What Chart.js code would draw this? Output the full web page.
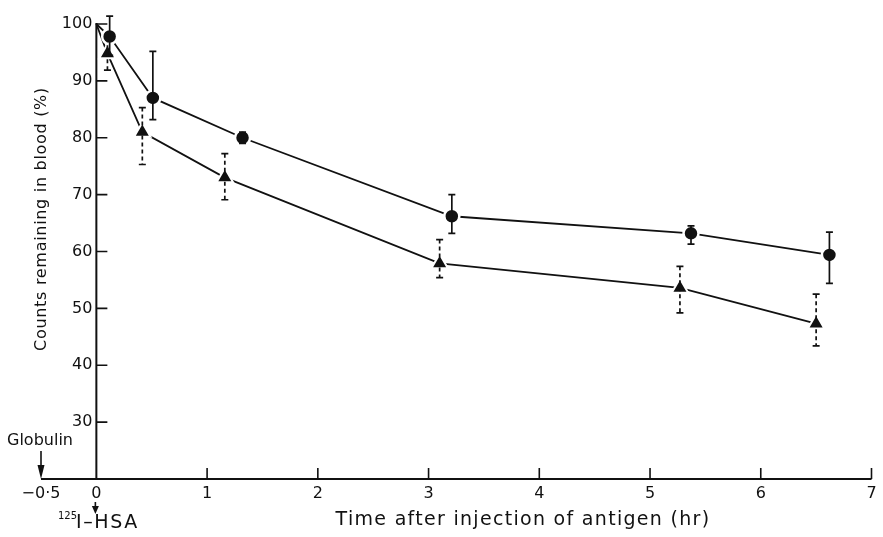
<!DOCTYPE html>
<html>
<head>
<meta charset="utf-8">
<script src="https://cdn.jsdelivr.net/npm/chart.js@4"></script>
<style>
  body { margin: 0; background: #fff; }
  #wrap { width: 883px; height: 537px; position: relative; }
</style>
</head>
<body>
<div id="wrap"><canvas id="chart"></canvas></div>
<script>
// time (hr) and counts (%), first point is the shared start at 100%
const circleTime = [0, 0.12, 0.51, 1.32, 3.21, 5.37, 6.62];
const circleCounts = [100, 97.8, 87.0, 80.0, 66.2, 63.2, 59.4];
const circleHigh = [null, 101.4, 95.2, 81.0, 70.0, 64.5, 63.4];
const circleLow = [null, 94.5, 83.2, 79.0, 63.2, 61.3, 54.4];

const triangleTime = [0, 0.10, 0.415, 1.16, 3.10, 5.27, 6.50];
const triangleCounts = [100, 94.8, 81.0, 73.0, 57.9, 53.6, 47.3];
const triangleHigh = [null, 97.5, 85.3, 77.2, 62.1, 57.4, 52.5];
const triangleLow = [null, 91.9, 75.3, 69.1, 55.4, 49.2, 43.4];

const xTicks = [-0.5, 0, 1, 2, 3, 4, 5, 6, 7];
const xTickLabels = ["\u22120\u00b75", "0", "1", "2", "3", "4", "5", "6", "7"];
const yTicks = [30, 40, 50, 60, 70, 80, 90, 100];

const INK = "#111";
const FONT = "'DejaVu Sans', sans-serif";

function toPoints(xs, ys) {
  return xs.map((x, i) => ({x: x, y: ys[i]}));
}

function arrow(ctx, x, yTail, yHead, head) {
  const dir = yHead > yTail ? 1 : -1;
  ctx.beginPath();
  ctx.moveTo(x, yTail);
  ctx.lineTo(x, yHead - dir * head * 0.6);
  ctx.stroke();
  ctx.beginPath();
  ctx.moveTo(x, yHead);
  ctx.lineTo(x - 3.5, yHead - dir * head);
  ctx.lineTo(x + 3.5, yHead - dir * head);
  ctx.closePath();
  ctx.fill();
}

const axesPlugin = {
  id: 'paperAxes',
  beforeDatasetsDraw(chart) {
    const ctx = chart.ctx;
    const xs = chart.scales.x, ys = chart.scales.y;
    const x0 = xs.getPixelForValue(0);
    const yBase = ys.getPixelForValue(ys.min);
    ctx.save();
    ctx.strokeStyle = INK;
    ctx.fillStyle = INK;
    ctx.lineWidth = 2;
    // axis lines
    ctx.beginPath();
    ctx.moveTo(xs.getPixelForValue(xs.min), yBase);
    ctx.lineTo(xs.getPixelForValue(xs.max), yBase);
    ctx.moveTo(x0, yBase);
    ctx.lineTo(x0, ys.getPixelForValue(ys.max) - 1);
    ctx.stroke();
    // inward ticks
    ctx.lineWidth = 1.6;
    ctx.beginPath();
    yTicks.forEach(v => {
      const py = ys.getPixelForValue(v);
      ctx.moveTo(x0, py);
      ctx.lineTo(x0 + 11, py);
    });
    xTicks.forEach(v => {
      if (v <= 0) return;
      const px = xs.getPixelForValue(v);
      ctx.moveTo(px, yBase);
      ctx.lineTo(px, yBase - 11);
    });
    ctx.stroke();
    // tick labels
    ctx.font = "16px " + FONT;
    ctx.textAlign = "right";
    ctx.textBaseline = "middle";
    yTicks.forEach(v => ctx.fillText(String(v), x0 - 4, ys.getPixelForValue(v)));
    ctx.textAlign = "center";
    xTicks.forEach((v, i) => ctx.fillText(xTickLabels[i], xs.getPixelForValue(v), yBase + 15));
    // axis titles
    ctx.font = "19px " + FONT;
    ctx.letterSpacing = "1.3px";
    ctx.fillText("Time after injection of antigen (hr)", 523, 520);
    ctx.font = "16px " + FONT;
    ctx.letterSpacing = "0.7px";
    ctx.save();
    ctx.translate(42, 219);
    ctx.rotate(-Math.PI / 2);
    ctx.fillText("Counts remaining in blood (%)", 0, 0);
    ctx.restore();
    ctx.letterSpacing = "0px";
    // injection markers
    const xg = xs.getPixelForValue(-0.5);
    ctx.textAlign = "left";
    ctx.fillText("Globulin", 7, 441);
    ctx.lineWidth = 1.6;
    arrow(ctx, xg, 451, yBase, 14);
    arrow(ctx, x0 - 1, 502, 514, 8);
    ctx.textBaseline = "alphabetic";
    ctx.font = "10px " + FONT;
    ctx.fillText("125", 58, 519);
    ctx.font = "19px " + FONT;
    ctx.letterSpacing = "1.6px";
    ctx.fillText("I\u2013HSA", 76, 528);
    ctx.restore();
  },
  afterDatasetsDraw(chart) {
    const ctx = chart.ctx;
    const xs = chart.scales.x, ys = chart.scales.y;
    const bars = [
      [circleTime, circleHigh, circleLow, []],
      [triangleTime, triangleHigh, triangleLow, [4, 3]]
    ];
    ctx.save();
    ctx.strokeStyle = INK;
    ctx.lineWidth = 1.7;
    bars.forEach(([t, hi, lo, dash]) => {
      t.forEach((v, i) => {
        if (hi[i] === null) return;
        const px = xs.getPixelForValue(v);
        const top = ys.getPixelForValue(hi[i]);
        const bot = ys.getPixelForValue(lo[i]);
        ctx.setLineDash(dash);
        ctx.beginPath();
        ctx.moveTo(px, top);
        ctx.lineTo(px, bot);
        ctx.stroke();
        ctx.setLineDash([]);
        ctx.beginPath();
        ctx.moveTo(px - 3.5, top);
        ctx.lineTo(px + 3.5, top);
        ctx.moveTo(px - 3.5, bot);
        ctx.lineTo(px + 3.5, bot);
        ctx.stroke();
      });
    });
    ctx.restore();
  }
};

new Chart(document.getElementById('chart'), {
  type: 'scatter',
  data: {
    datasets: [{
      label: 'circles',
      data: toPoints(circleTime, circleCounts),
      showLine: true,
      borderColor: INK,
      borderWidth: 1.8,
      pointStyle: 'circle',
      pointRadius: circleTime.map((t, i) => i === 0 ? 0 : 7.5),
      pointBackgroundColor: INK,
      pointBorderColor: '#fff',
      pointBorderWidth: 2.5,
      clip: false
    }, {
      label: 'triangles',
      data: toPoints(triangleTime, triangleCounts),
      showLine: true,
      borderColor: INK,
      borderWidth: 1.8,
      pointStyle: 'triangle',
      pointRadius: triangleTime.map((t, i) => i === 0 ? 0 : 9.5),
      pointBackgroundColor: INK,
      pointBorderColor: '#fff',
      pointBorderWidth: 2,
      clip: false
    }]
  },
  options: {
    responsive: true,
    maintainAspectRatio: false,
    animation: false,
    layout: { padding: { left: 41, right: 1, top: 24, bottom: 58 } },
    plugins: { legend: { display: false }, tooltip: { enabled: false } },
    scales: {
      x: { type: 'linear', min: -0.5, max: 7, display: false },
      y: { type: 'linear', min: 20, max: 100, display: false }
    }
  },
  plugins: [axesPlugin]
});
</script>
</body>
</html>
